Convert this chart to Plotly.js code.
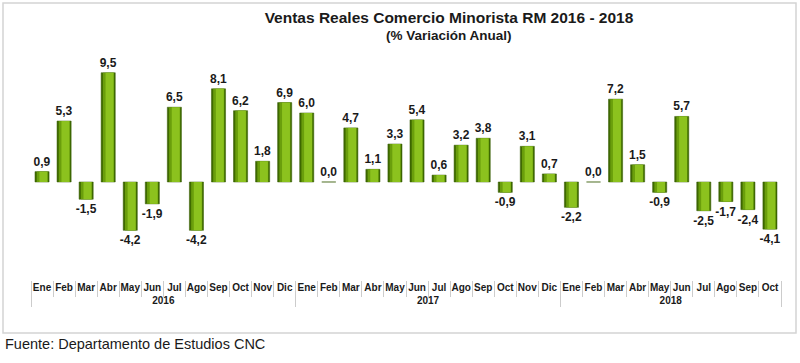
<!DOCTYPE html>
<html>
<head>
<meta charset="utf-8">
<script src="https://cdn.plot.ly/plotly-3.0.1.min.js"></script>
<style>html,body{margin:0;padding:0;background:#fff;}#chart{width:800px;height:363px;}</style>
</head>
<body>
<div id="chart"></div>
<script>
const years = ["2016","2016","2016","2016","2016","2016","2016","2016","2016","2016","2016","2016",
               "2017","2017","2017","2017","2017","2017","2017","2017","2017","2017","2017","2017",
               "2018","2018","2018","2018","2018","2018","2018","2018","2018","2018"];
const months = ["Ene","Feb","Mar","Abr","May","Jun","Jul","Ago","Sep","Oct","Nov","Dic",
                "Ene","Feb","Mar","Abr","May","Jun","Jul","Ago","Sep","Oct","Nov","Dic",
                "Ene","Feb","Mar","Abr","May","Jun","Jul","Ago","Sep","Oct"];
const values = [0.9, 5.3, -1.5, 9.5, -4.2, -1.9, 6.5, -4.2, 8.1, 6.2, 1.8, 6.9,
                6.0, 0.0, 4.7, 1.1, 3.3, 5.4, 0.6, 3.2, 3.8, -0.9, 3.1, 0.7,
                -2.2, 0.0, 7.2, 1.5, -0.9, 5.7, -2.5, -1.7, -2.4, -4.1];

const x = [years, months];
const W = 800, H = 363, L = 31, R = 19, T = 55, B = 83;
const pw = W - L - R, ph = H - T - B;
const px = v => (v - L) / pw;
const py = v => (H - B - v) / ph;

const base = {
  type: 'bar', x: x, y: values, width: 0.64, offset: -0.32,
  marker: {color: '#3f6a00', line: {width: 0.5, color: '#355a00'}},
  hoverinfo: 'skip', showlegend: false,
  texttemplate: '%{y:.1f}', textposition: 'outside', cliponaxis: false, constraintext: 'none',
  textfont: {family: 'Liberation Sans, Arial, sans-serif', size: 12, weight: 'bold', color: '#1a1a1a'}
};
const lo = {
  type: 'bar', x: x, y: values, width: 0.5, offset: -0.24,
  marker: {color: '#6a9e0c', line: {width: 0}},
  hoverinfo: 'skip', showlegend: false
};
const hi = {
  type: 'bar', x: x, y: values, width: 0.36, offset: -0.12,
  marker: {color: '#8cc21e', line: {width: 0}},
  hoverinfo: 'skip', showlegend: false
};

const layout = {
  width: W, height: H,
  margin: {l: L, r: R, t: T, b: B, pad: 0},
  paper_bgcolor: '#ffffff', plot_bgcolor: '#ffffff',
  separators: ',.',
  barmode: 'overlay',
  font: {family: 'Liberation Sans, Arial, sans-serif', color: '#1a1a1a'},
  title: {text: 'Ventas Reales Comercio Minorista RM 2016 - 2018',
          font: {size: 15.5, weight: 'bold', color: '#1a1a1a'},
          x: 449 / W, xanchor: 'center', y: 1 - 18 / H, yanchor: 'middle', xref: 'container', yref: 'container'},
  xaxis: {
    type: 'multicategory',
    showgrid: false, zeroline: false, showline: false,
    tickfont: {size: 10, weight: 'bold', color: '#1a1a1a'}, tickangle: 0,
    ticks: 'outside', tickson: 'boundaries', ticklen: 16, tickcolor: '#cccccc', tickwidth: 1,
    showdividers: true, dividercolor: '#cccccc', dividerwidth: 1,
    fixedrange: true
  },
  yaxis: {
    range: [-8.52, 11.04], visible: false, showgrid: false, zeroline: false, fixedrange: true
  },
  shapes: [{
    type: 'rect', xref: 'paper', yref: 'paper',
    x0: px(3), x1: px(796), y0: py(333), y1: py(3),
    line: {color: '#d4d4d4', width: 1.5}, fillcolor: 'rgba(0,0,0,0)', layer: 'below'
  }],
  annotations: [
    {text: '(% Variación Anual)', xref: 'paper', yref: 'paper', x: px(449), y: py(35),
     xanchor: 'center', yanchor: 'middle', showarrow: false,
     font: {size: 13.5, weight: 'bold', color: '#1a1a1a'}},
    {text: 'Fuente: Departamento de Estudios CNC', xref: 'paper', yref: 'paper', x: px(3), y: py(344),
     xanchor: 'left', yanchor: 'middle', showarrow: false,
     font: {size: 14.5, color: '#1a1a1a'}}
  ]
};

Plotly.newPlot('chart', [base, lo, hi], layout, {displayModeBar: false, staticPlot: true});
</script>
</body>
</html>
